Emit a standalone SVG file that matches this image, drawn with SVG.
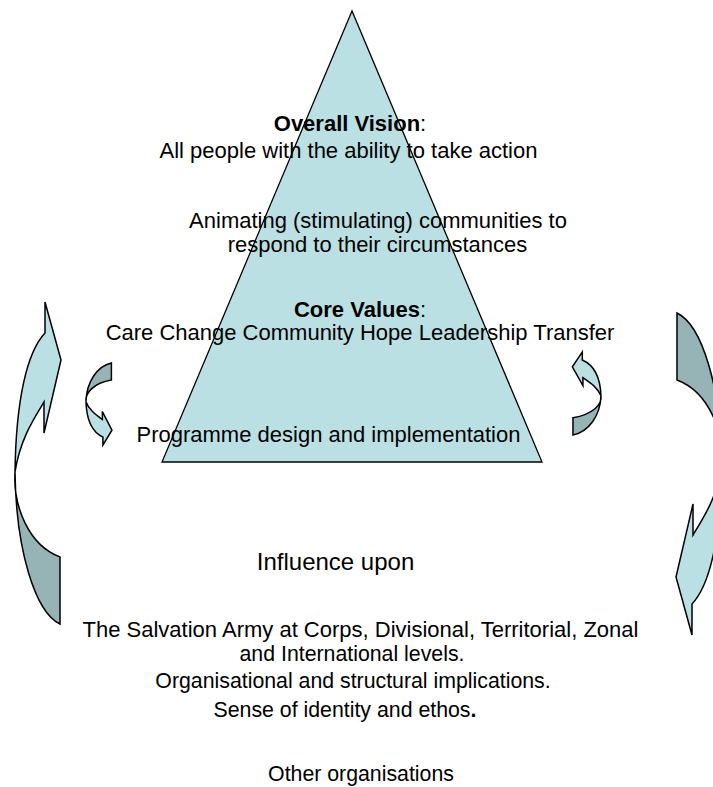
<svg xmlns="http://www.w3.org/2000/svg" xmlns:xlink="http://www.w3.org/1999/xlink" width="713" height="787" viewBox="0 0 713 787">
  <style>
    text { font-family: "Liberation Sans", Arial, sans-serif; font-size: 22px; fill: #000; text-anchor: middle; }
    .b { font-weight: bold; }
    .s { font-size: 21.3px; }
    .light { fill: #BBE0E3; }
    .dark { fill: #96B3B6; }
    .edge { stroke: #000; stroke-width: 1.5; stroke-linejoin: miter; vector-effect: non-scaling-stroke; }
  </style>
  <defs>
    <!-- curved arrow: tail at bottom right, bulging left, head pointing up -->
    <g id="curvedArrow">
      <path class="dark edge" d="M15,472 C16,550 35,612 60,624 L60,557 C28,545 13,505 15,472 Z"/>
      <path class="light edge" d="M45,333 C27,352 16,400 15,472 C20,440 33,420 44,402 L44,433 L61,360 L45,302 Z"/>
    </g>
  </defs>

  <g id="pyramid">
    <polygon points="352,11 162,462 542,462" fill="#BBE0E3" stroke="#000" stroke-width="1.3"/>
  </g>

  <g id="connectors">
    <use id="arrow-outer-left" xlink:href="#curvedArrow"/>
    <use id="arrow-outer-right" xlink:href="#curvedArrow" transform="matrix(-1,0,0,-1,737,937)"/>
    <use id="arrow-inner-left" xlink:href="#curvedArrow" transform="matrix(0.565,0,0,-0.2547,77.5,521.9)"/>
    <use id="arrow-inner-right" xlink:href="#curvedArrow" transform="matrix(-0.622,0,0,0.2578,610.3,274.1)"/>
  </g>

  <g id="vision">
    <text x="350" y="131"><tspan class="b">Overall Vision</tspan>:</text>
    <text x="348.5" y="158">All people with the ability to take action</text>
  </g>

  <g id="mission">
    <text x="378" y="228">Animating (stimulating) communities to</text>
    <text x="377.5" y="251.5">respond to their circumstances</text>
  </g>

  <g id="values">
    <text x="360" y="316.5"><tspan class="b">Core Values</tspan>:</text>
    <text x="360" y="340">Care Change Community Hope Leadership Transfer</text>
  </g>

  <g id="programme">
    <text x="328.5" y="442">Programme design and implementation</text>
  </g>

  <g id="influence">
    <text x="335.5" y="570" style="font-size:24px">Influence upon</text>
  </g>

  <g id="salvation-army">
    <text x="360.5" y="637">The Salvation Army at Corps, Divisional, Territorial, Zonal</text>
    <text class="s" x="352" y="661">and International levels.</text>
    <text class="s" x="353" y="688">Organisational and structural implications.</text>
    <text class="s" x="345" y="717">Sense of identity and ethos<tspan class="b">.</tspan></text>
  </g>

  <g id="other-organisations">
    <text class="s" x="361" y="781">Other organisations</text>
  </g>
</svg>
